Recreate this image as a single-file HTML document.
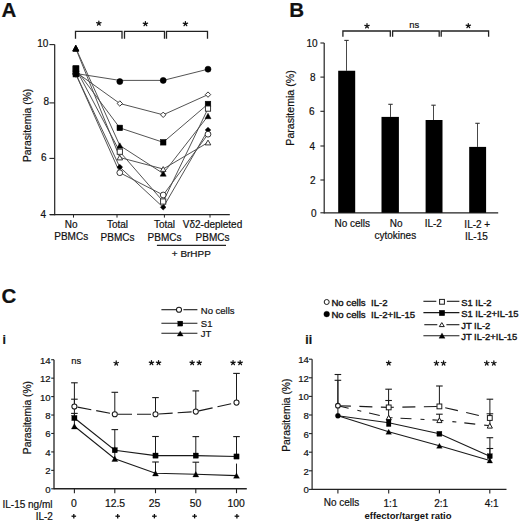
<!DOCTYPE html><html><head><meta charset="utf-8"><style>html,body{margin:0;padding:0;background:#fff;overflow:hidden;}svg{display:block;}text{font-family:"Liberation Sans", sans-serif;fill:#111;stroke:#111;stroke-width:0.2px;}</style></head><body>
<svg width="520" height="521" viewBox="0 0 520 521">
<rect width="520" height="521" fill="#fff"/>
<text x="1.5" y="17" font-size="20.5" text-anchor="start" font-weight="bold" >A</text>
<line x1="54.7" y1="44.6" x2="54.7" y2="215.2" stroke="#222" stroke-width="1.2" />
<line x1="50" y1="214.6" x2="229.8" y2="214.6" stroke="#222" stroke-width="1.3" />
<line x1="49.4" y1="44.6" x2="54.7" y2="44.6" stroke="#222" stroke-width="1.1" />
<line x1="49.4" y1="102.9" x2="54.7" y2="102.9" stroke="#222" stroke-width="1.1" />
<line x1="49.4" y1="158.4" x2="54.7" y2="158.4" stroke="#222" stroke-width="1.1" />
<line x1="49.4" y1="214.6" x2="54.7" y2="214.6" stroke="#222" stroke-width="1.1" />
<text x="48.3" y="46.8" font-size="10" text-anchor="end" font-weight="normal" >10</text>
<text x="49.1" y="104.9" font-size="10" text-anchor="end" font-weight="normal" >8</text>
<text x="46.6" y="160.9" font-size="10" text-anchor="end" font-weight="normal" >6</text>
<text x="46.0" y="217.8" font-size="10" text-anchor="end" font-weight="normal" >4</text>
<line x1="73.5" y1="214.6" x2="73.5" y2="217.6" stroke="#222" stroke-width="1.0" />
<line x1="117" y1="214.6" x2="117" y2="217.6" stroke="#222" stroke-width="1.0" />
<line x1="164.4" y1="214.6" x2="164.4" y2="217.6" stroke="#222" stroke-width="1.0" />
<line x1="210" y1="214.6" x2="210" y2="217.6" stroke="#222" stroke-width="1.0" />
<text x="31.0" y="125.4" font-size="10.3" text-anchor="middle" transform="rotate(-90 31.0 125.4)">Parasitemia (%)</text>
<text x="71.2" y="227.8" font-size="10" text-anchor="middle" font-weight="normal" >No</text>
<text x="71.2" y="240.2" font-size="10" text-anchor="middle" font-weight="normal" >PBMCs</text>
<text x="117.5" y="228.4" font-size="10" text-anchor="middle" font-weight="normal" >Total</text>
<text x="117.5" y="240.9" font-size="10" text-anchor="middle" font-weight="normal" >PBMCs</text>
<text x="164.5" y="228.4" font-size="10" text-anchor="middle" font-weight="normal" >Total</text>
<text x="164.5" y="240.9" font-size="10" text-anchor="middle" font-weight="normal" >PBMCs</text>
<text x="212.5" y="228.2" font-size="10" text-anchor="middle" font-weight="normal" >V&#948;2-depleted</text>
<text x="212.5" y="240.5" font-size="10" text-anchor="middle" font-weight="normal" >PBMCs</text>
<line x1="156.9" y1="245.4" x2="226" y2="245.4" stroke="#222" stroke-width="1.2" />
<text transform="translate(191.3 256.6) scale(1.06 1)" font-size="9.4" text-anchor="middle" font-weight="normal" >+ BrHPP</text>
<polyline points="75.5,38.8 75.5,31.3 122,31.3 122,38.8" fill="none" stroke="#222" stroke-width="1.3"/>
<polyline points="124.5,38.8 124.5,31.3 164.5,31.3 164.5,38.8" fill="none" stroke="#222" stroke-width="1.3"/>
<polyline points="166.5,38.8 166.5,31.3 207.5,31.3 207.5,38.8" fill="none" stroke="#222" stroke-width="1.3"/>
<path d="M98.85,23.32L98.85,21.02M98.85,23.32L101.04,22.61M98.85,23.32L100.20,25.18M98.85,23.32L97.50,25.18M98.85,23.32L96.66,22.61" stroke="#111" stroke-width="1.25" stroke-linecap="round" fill="none"/>
<path d="M145.40,23.82L145.40,21.52M145.40,23.82L147.59,23.11M145.40,23.82L146.75,25.68M145.40,23.82L144.05,25.68M145.40,23.82L143.21,23.11" stroke="#111" stroke-width="1.25" stroke-linecap="round" fill="none"/>
<path d="M185.40,23.82L185.40,21.52M185.40,23.82L187.59,23.11M185.40,23.82L186.75,25.68M185.40,23.82L184.05,25.68M185.40,23.82L183.21,23.11" stroke="#111" stroke-width="1.25" stroke-linecap="round" fill="none"/>
<polyline points="75.80,73.50 119.80,80.40 163.20,80.40 208.00,69.20" fill="none" stroke="#4a4a4a" stroke-width="0.95" />
<polyline points="75.80,72.00 119.80,103.50 163.20,114.80 208.00,94.60" fill="none" stroke="#4a4a4a" stroke-width="0.95" />
<polyline points="75.80,69.00 119.80,127.90 163.20,142.30 208.00,104.00" fill="none" stroke="#4a4a4a" stroke-width="0.95" />
<polyline points="75.80,68.50 119.80,151.70 163.20,201.50 208.00,108.60" fill="none" stroke="#4a4a4a" stroke-width="0.95" />
<polyline points="75.80,48.00 119.80,145.50 163.20,173.50 208.00,116.00" fill="none" stroke="#4a4a4a" stroke-width="0.95" />
<polyline points="75.80,48.50 119.80,157.50 163.20,169.00 208.00,142.50" fill="none" stroke="#4a4a4a" stroke-width="0.95" />
<polyline points="75.80,74.00 119.80,167.10 163.20,207.30 208.00,130.00" fill="none" stroke="#4a4a4a" stroke-width="0.95" />
<polyline points="75.80,74.00 119.80,172.70 163.20,195.00 208.00,134.20" fill="none" stroke="#4a4a4a" stroke-width="0.95" />
<circle cx="119.8" cy="81.6" r="3.0" fill="#000" stroke="#000" stroke-width="0.6"/>
<polygon points="119.80,100.80 122.50,103.50 119.80,106.20 117.10,103.50" fill="#fff" stroke="#222" stroke-width="0.9"/>
<rect x="117.00" y="125.10" width="5.6" height="5.6" fill="#000" stroke="#000" stroke-width="0.5"/>
<rect x="117.20" y="149.10" width="5.2" height="5.2" fill="#fff" stroke="#222" stroke-width="0.9"/>
<polygon points="119.80,142.80 122.80,148.20 116.80,148.20" fill="#000" stroke="#000" stroke-width="0.5" stroke-linejoin="miter"/>
<polygon points="119.80,155.10 122.60,159.90 117.00,159.90" fill="#fff" stroke="#222" stroke-width="0.9" stroke-linejoin="miter"/>
<polygon points="119.80,164.30 122.60,167.10 119.80,169.90 117.00,167.10" fill="#000" stroke="#000" stroke-width="0.5"/>
<circle cx="119.8" cy="172.7" r="2.9" fill="#fff" stroke="#222" stroke-width="0.9"/>
<circle cx="163.2" cy="80.4" r="3.0" fill="#000" stroke="#000" stroke-width="0.6"/>
<polygon points="163.20,112.10 165.90,114.80 163.20,117.50 160.50,114.80" fill="#fff" stroke="#222" stroke-width="0.9"/>
<rect x="160.40" y="139.50" width="5.6" height="5.6" fill="#000" stroke="#000" stroke-width="0.5"/>
<rect x="160.60" y="198.90" width="5.2" height="5.2" fill="#fff" stroke="#222" stroke-width="0.9"/>
<polygon points="163.20,170.80 166.20,176.20 160.20,176.20" fill="#000" stroke="#000" stroke-width="0.5" stroke-linejoin="miter"/>
<polygon points="163.20,166.60 166.00,171.40 160.40,171.40" fill="#fff" stroke="#222" stroke-width="0.9" stroke-linejoin="miter"/>
<polygon points="163.20,204.50 166.00,207.30 163.20,210.10 160.40,207.30" fill="#000" stroke="#000" stroke-width="0.5"/>
<circle cx="163.2" cy="195" r="2.9" fill="#fff" stroke="#222" stroke-width="0.9"/>
<circle cx="208.0" cy="69.2" r="3.0" fill="#000" stroke="#000" stroke-width="0.6"/>
<polygon points="208.00,91.90 210.70,94.60 208.00,97.30 205.30,94.60" fill="#fff" stroke="#222" stroke-width="0.9"/>
<rect x="205.20" y="101.20" width="5.6" height="5.6" fill="#000" stroke="#000" stroke-width="0.5"/>
<rect x="205.40" y="106.00" width="5.2" height="5.2" fill="#fff" stroke="#222" stroke-width="0.9"/>
<polygon points="208.00,113.30 211.00,118.70 205.00,118.70" fill="#000" stroke="#000" stroke-width="0.5" stroke-linejoin="miter"/>
<polygon points="208.00,140.10 210.80,144.90 205.20,144.90" fill="#fff" stroke="#222" stroke-width="0.9" stroke-linejoin="miter"/>
<polygon points="208.00,127.20 210.80,130.00 208.00,132.80 205.20,130.00" fill="#000" stroke="#000" stroke-width="0.5"/>
<circle cx="208.0" cy="134.2" r="2.9" fill="#fff" stroke="#222" stroke-width="0.9"/>
<circle cx="75.8" cy="73.5" r="3.0" fill="#000" stroke="#000" stroke-width="0.6"/>
<polygon points="75.80,69.30 78.50,72.00 75.80,74.70 73.10,72.00" fill="#fff" stroke="#222" stroke-width="0.9"/>
<rect x="73.00" y="66.20" width="5.6" height="5.6" fill="#000" stroke="#000" stroke-width="0.5"/>
<rect x="73.20" y="65.90" width="5.2" height="5.2" fill="#fff" stroke="#222" stroke-width="0.9"/>
<polygon points="75.80,45.30 78.80,50.70 72.80,50.70" fill="#000" stroke="#000" stroke-width="0.5" stroke-linejoin="miter"/>
<polygon points="75.80,46.10 78.60,50.90 73.00,50.90" fill="#fff" stroke="#222" stroke-width="0.9" stroke-linejoin="miter"/>
<polygon points="75.80,71.20 78.60,74.00 75.80,76.80 73.00,74.00" fill="#000" stroke="#000" stroke-width="0.5"/>
<circle cx="75.8" cy="74" r="2.9" fill="#fff" stroke="#222" stroke-width="0.9"/>
<rect x="73.20" y="65.90" width="5.6" height="5.6" fill="#000" stroke="#000" stroke-width="0.9"/>
<rect x="73.20" y="71.20" width="5.6" height="5.6" fill="#000" stroke="#000" stroke-width="0.9"/>
<polygon points="75.80,45.20 78.80,51.20 72.80,51.20" fill="#000" stroke="#000" stroke-width="0.9" stroke-linejoin="miter"/>
<text x="289.3" y="16.9" font-size="20.5" text-anchor="start" font-weight="bold" >B</text>
<line x1="324.2" y1="43.0" x2="324.2" y2="213.4" stroke="#222" stroke-width="1.2" />
<line x1="324.2" y1="212.8" x2="498.2" y2="212.8" stroke="#222" stroke-width="1.3" />
<line x1="320.4" y1="43.0" x2="324.2" y2="43.0" stroke="#222" stroke-width="1.1" />
<text x="317.6" y="46.6" font-size="10" text-anchor="end" font-weight="normal" >10</text>
<line x1="320.4" y1="77.1" x2="324.2" y2="77.1" stroke="#222" stroke-width="1.1" />
<text x="315.6" y="80.69999999999999" font-size="10" text-anchor="end" font-weight="normal" >8</text>
<line x1="320.4" y1="111.3" x2="324.2" y2="111.3" stroke="#222" stroke-width="1.1" />
<text x="314.5" y="114.89999999999999" font-size="10" text-anchor="end" font-weight="normal" >6</text>
<line x1="320.4" y1="146.0" x2="324.2" y2="146.0" stroke="#222" stroke-width="1.1" />
<text x="315.1" y="149.6" font-size="10" text-anchor="end" font-weight="normal" >4</text>
<line x1="320.4" y1="180.0" x2="324.2" y2="180.0" stroke="#222" stroke-width="1.1" />
<text x="315.5" y="183.6" font-size="10" text-anchor="end" font-weight="normal" >2</text>
<line x1="320.4" y1="212.8" x2="324.2" y2="212.8" stroke="#222" stroke-width="1.1" />
<text x="316.6" y="217.20000000000002" font-size="10" text-anchor="end" font-weight="normal" >0</text>
<text x="293.9" y="108.0" font-size="10.6" text-anchor="middle" transform="rotate(-90 293.9 108.0)">Parasitemia (%)</text>
<line x1="346.5" y1="70.75" x2="346.5" y2="40.4" stroke="#333" stroke-width="0.9" />
<line x1="344.3" y1="40.4" x2="348.7" y2="40.4" stroke="#333" stroke-width="1.1" />
<rect x="338.2" y="70.75" width="17.00" height="142.05" fill="#000"/>
<line x1="390.5" y1="116.9" x2="390.5" y2="104.3" stroke="#333" stroke-width="0.9" />
<line x1="388.3" y1="104.3" x2="392.7" y2="104.3" stroke="#333" stroke-width="1.1" />
<rect x="381.5" y="116.9" width="17.40" height="95.90" fill="#000"/>
<line x1="433.5" y1="120.0" x2="433.5" y2="105.2" stroke="#333" stroke-width="0.9" />
<line x1="431.3" y1="105.2" x2="435.7" y2="105.2" stroke="#333" stroke-width="1.1" />
<rect x="425.6" y="120.0" width="16.90" height="92.80" fill="#000"/>
<line x1="477.5" y1="146.9" x2="477.5" y2="123.3" stroke="#333" stroke-width="0.9" />
<line x1="475.3" y1="123.3" x2="479.7" y2="123.3" stroke="#333" stroke-width="1.1" />
<rect x="469.2" y="146.9" width="16.90" height="65.90" fill="#000"/>
<polyline points="342.9,36.8 342.9,31.0 390.3,31.0 390.3,36.8" fill="none" stroke="#222" stroke-width="1.3"/>
<polyline points="392.6,36.8 392.6,31.0 439.2,31.0 439.2,36.8" fill="none" stroke="#222" stroke-width="1.3"/>
<polyline points="441.2,36.8 441.2,31.0 488.6,31.0 488.6,36.8" fill="none" stroke="#222" stroke-width="1.3"/>
<path d="M367.00,26.02L367.00,23.72M367.00,26.02L369.19,25.31M367.00,26.02L368.35,27.88M367.00,26.02L365.65,27.88M367.00,26.02L364.81,25.31" stroke="#111" stroke-width="1.25" stroke-linecap="round" fill="none"/>
<path d="M468.30,25.82L468.30,23.52M468.30,25.82L470.49,25.11M468.30,25.82L469.65,27.68M468.30,25.82L466.95,27.68M468.30,25.82L466.11,25.11" stroke="#111" stroke-width="1.25" stroke-linecap="round" fill="none"/>
<text x="414.3" y="27.7" font-size="9.4" text-anchor="middle" font-weight="normal" >ns</text>
<text x="352.2" y="227.1" font-size="10" text-anchor="middle" font-weight="normal" >No cells</text>
<text x="396.2" y="226.9" font-size="10" text-anchor="middle" font-weight="normal" >No</text>
<text x="395.3" y="239.0" font-size="10" text-anchor="middle" font-weight="normal" >cytokines</text>
<text x="433.3" y="227.0" font-size="10" text-anchor="middle" font-weight="normal" >IL-2</text>
<text x="477.3" y="227.7" font-size="10" text-anchor="middle" font-weight="normal" >IL-2 +</text>
<text x="476.4" y="239.7" font-size="10" text-anchor="middle" font-weight="normal" >IL-15</text>
<text x="1.6" y="303.1" font-size="20.5" text-anchor="start" font-weight="bold" >C</text>
<text x="2.6" y="343.6" font-size="12.3" text-anchor="start" font-weight="bold" >i</text>
<line x1="54.0" y1="359.7" x2="54.0" y2="489.3" stroke="#222" stroke-width="1.3" />
<line x1="54.0" y1="488.8" x2="246.8" y2="488.8" stroke="#222" stroke-width="1.4" />
<line x1="51.2" y1="488.8" x2="54.0" y2="488.8" stroke="#222" stroke-width="1.1" />
<text x="50.6" y="492.8" font-size="9.6" text-anchor="end" font-weight="normal" >0</text>
<line x1="51.2" y1="470.36" x2="54.0" y2="470.36" stroke="#222" stroke-width="1.1" />
<text x="50.6" y="474.36" font-size="9.6" text-anchor="end" font-weight="normal" >2</text>
<line x1="51.2" y1="451.92" x2="54.0" y2="451.92" stroke="#222" stroke-width="1.1" />
<text x="50.6" y="455.92" font-size="9.6" text-anchor="end" font-weight="normal" >4</text>
<line x1="51.2" y1="433.48" x2="54.0" y2="433.48" stroke="#222" stroke-width="1.1" />
<text x="50.6" y="437.48" font-size="9.6" text-anchor="end" font-weight="normal" >6</text>
<line x1="51.2" y1="415.04" x2="54.0" y2="415.04" stroke="#222" stroke-width="1.1" />
<text x="50.6" y="419.04" font-size="9.6" text-anchor="end" font-weight="normal" >8</text>
<line x1="51.2" y1="396.6" x2="54.0" y2="396.6" stroke="#222" stroke-width="1.1" />
<text x="50.6" y="400.6" font-size="9.6" text-anchor="end" font-weight="normal" >10</text>
<line x1="51.2" y1="378.15999999999997" x2="54.0" y2="378.15999999999997" stroke="#222" stroke-width="1.1" />
<text x="50.6" y="382.15999999999997" font-size="9.6" text-anchor="end" font-weight="normal" >12</text>
<line x1="51.2" y1="359.72" x2="54.0" y2="359.72" stroke="#222" stroke-width="1.1" />
<text x="50.6" y="363.72" font-size="9.6" text-anchor="end" font-weight="normal" >14</text>
<line x1="74.4" y1="488.8" x2="74.4" y2="493.2" stroke="#222" stroke-width="1.1" />
<line x1="114.8" y1="488.8" x2="114.8" y2="493.2" stroke="#222" stroke-width="1.1" />
<line x1="155.5" y1="488.8" x2="155.5" y2="493.2" stroke="#222" stroke-width="1.1" />
<line x1="195.8" y1="488.8" x2="195.8" y2="493.2" stroke="#222" stroke-width="1.1" />
<line x1="236.5" y1="488.8" x2="236.5" y2="493.2" stroke="#222" stroke-width="1.1" />
<text x="73.8" y="507.3" font-size="10.4" text-anchor="middle" font-weight="normal" >0</text>
<text x="115.0" y="507.3" font-size="10.4" text-anchor="middle" font-weight="normal" >12.5</text>
<text x="154.6" y="507.3" font-size="10.4" text-anchor="middle" font-weight="normal" >25</text>
<text x="195.6" y="507.3" font-size="10.4" text-anchor="middle" font-weight="normal" >50</text>
<text x="236.1" y="507.3" font-size="10.4" text-anchor="middle" font-weight="normal" >100</text>
<line x1="71.5" y1="516.2" x2="76.1" y2="516.2" stroke="#111" stroke-width="1.3" />
<line x1="73.8" y1="514.0" x2="73.8" y2="518.4" stroke="#111" stroke-width="1.3" />
<line x1="115.4" y1="516.2" x2="120.0" y2="516.2" stroke="#111" stroke-width="1.3" />
<line x1="117.7" y1="514.0" x2="117.7" y2="518.4" stroke="#111" stroke-width="1.3" />
<line x1="152.1" y1="516.2" x2="156.70000000000002" y2="516.2" stroke="#111" stroke-width="1.3" />
<line x1="154.4" y1="514.0" x2="154.4" y2="518.4" stroke="#111" stroke-width="1.3" />
<line x1="192.29999999999998" y1="516.2" x2="196.9" y2="516.2" stroke="#111" stroke-width="1.3" />
<line x1="194.6" y1="514.0" x2="194.6" y2="518.4" stroke="#111" stroke-width="1.3" />
<line x1="234.6" y1="516.2" x2="239.20000000000002" y2="516.2" stroke="#111" stroke-width="1.3" />
<line x1="236.9" y1="514.0" x2="236.9" y2="518.4" stroke="#111" stroke-width="1.3" />
<text x="52.5" y="507.7" font-size="10" text-anchor="end" font-weight="normal" >IL-15 ng/ml</text>
<text x="52.9" y="519.7" font-size="10" text-anchor="end" font-weight="normal" >IL-2</text>
<text x="31.3" y="417.6" font-size="10.3" text-anchor="middle" transform="rotate(-90 31.3 417.6)">Parasitemia (%)</text>
<line x1="74.4" y1="406.5" x2="74.4" y2="382.8" stroke="#1a1a1a" stroke-width="1.0" />
<line x1="71.10000000000001" y1="382.8" x2="77.7" y2="382.8" stroke="#1a1a1a" stroke-width="1.1" />
<line x1="74.4" y1="418.0" x2="74.4" y2="399.2" stroke="#1a1a1a" stroke-width="1.0" />
<line x1="71.10000000000001" y1="399.2" x2="77.7" y2="399.2" stroke="#1a1a1a" stroke-width="1.1" />
<line x1="74.4" y1="426.3" x2="74.4" y2="413.4" stroke="#1a1a1a" stroke-width="1.0" />
<line x1="71.10000000000001" y1="413.4" x2="77.7" y2="413.4" stroke="#1a1a1a" stroke-width="1.1" />
<line x1="114.8" y1="414.2" x2="114.8" y2="392.3" stroke="#1a1a1a" stroke-width="1.0" />
<line x1="111.5" y1="392.3" x2="118.1" y2="392.3" stroke="#1a1a1a" stroke-width="1.1" />
<line x1="114.8" y1="450.2" x2="114.8" y2="429.6" stroke="#1a1a1a" stroke-width="1.0" />
<line x1="111.5" y1="429.6" x2="118.1" y2="429.6" stroke="#1a1a1a" stroke-width="1.1" />
<line x1="114.8" y1="458.8" x2="114.8" y2="446.8" stroke="#1a1a1a" stroke-width="1.0" />
<line x1="155.5" y1="414.2" x2="155.5" y2="397.6" stroke="#1a1a1a" stroke-width="1.0" />
<line x1="152.2" y1="397.6" x2="158.8" y2="397.6" stroke="#1a1a1a" stroke-width="1.1" />
<line x1="155.5" y1="455.6" x2="155.5" y2="436.5" stroke="#1a1a1a" stroke-width="1.0" />
<line x1="152.2" y1="436.5" x2="158.8" y2="436.5" stroke="#1a1a1a" stroke-width="1.1" />
<line x1="155.5" y1="473.3" x2="155.5" y2="462.0" stroke="#1a1a1a" stroke-width="1.0" />
<line x1="152.2" y1="462.0" x2="158.8" y2="462.0" stroke="#1a1a1a" stroke-width="1.1" />
<line x1="195.8" y1="411.6" x2="195.8" y2="390.9" stroke="#1a1a1a" stroke-width="1.0" />
<line x1="192.5" y1="390.9" x2="199.10000000000002" y2="390.9" stroke="#1a1a1a" stroke-width="1.1" />
<line x1="195.8" y1="455.6" x2="195.8" y2="436.6" stroke="#1a1a1a" stroke-width="1.0" />
<line x1="192.5" y1="436.6" x2="199.10000000000002" y2="436.6" stroke="#1a1a1a" stroke-width="1.1" />
<line x1="195.8" y1="474.2" x2="195.8" y2="462.2" stroke="#1a1a1a" stroke-width="1.0" />
<line x1="192.5" y1="462.2" x2="199.10000000000002" y2="462.2" stroke="#1a1a1a" stroke-width="1.1" />
<line x1="236.5" y1="402.6" x2="236.5" y2="373.4" stroke="#1a1a1a" stroke-width="1.0" />
<line x1="233.2" y1="373.4" x2="239.8" y2="373.4" stroke="#1a1a1a" stroke-width="1.1" />
<line x1="236.5" y1="456.5" x2="236.5" y2="436.6" stroke="#1a1a1a" stroke-width="1.0" />
<line x1="233.2" y1="436.6" x2="239.8" y2="436.6" stroke="#1a1a1a" stroke-width="1.1" />
<line x1="236.5" y1="475.6" x2="236.5" y2="463.6" stroke="#1a1a1a" stroke-width="1.0" />
<line x1="77.54" y1="407.10" x2="111.66" y2="413.60" stroke="#1a1a1a" stroke-width="1.1" stroke-dasharray="14 5"/>
<line x1="118.00" y1="414.20" x2="152.30" y2="414.20" stroke="#1a1a1a" stroke-width="1.1" stroke-dasharray="14 5"/>
<line x1="158.69" y1="413.99" x2="192.61" y2="411.81" stroke="#1a1a1a" stroke-width="1.1" stroke-dasharray="14 5"/>
<line x1="198.92" y1="410.91" x2="233.38" y2="403.29" stroke="#1a1a1a" stroke-width="1.1" stroke-dasharray="14 5"/>
<polyline points="74.40,418.00 114.80,450.20 155.50,455.60 195.80,455.60 236.50,456.50" fill="none" stroke="#1a1a1a" stroke-width="1.1" />
<polyline points="74.40,426.30 114.80,458.80 155.50,473.30 195.80,474.20 236.50,475.60" fill="none" stroke="#1a1a1a" stroke-width="1.1" />
<circle cx="74.4" cy="406.5" r="2.55" fill="#fff" stroke="#1a1a1a" stroke-width="1.05"/>
<rect x="71.80" y="415.40" width="5.2" height="5.2" fill="#000" stroke="#000" stroke-width="0.3"/>
<polygon points="74.40,423.60 77.40,429.00 71.40,429.00" fill="#000" stroke="#000" stroke-width="0.3" stroke-linejoin="miter"/>
<circle cx="114.8" cy="414.2" r="2.55" fill="#fff" stroke="#1a1a1a" stroke-width="1.05"/>
<rect x="112.20" y="447.60" width="5.2" height="5.2" fill="#000" stroke="#000" stroke-width="0.3"/>
<polygon points="114.80,456.10 117.80,461.50 111.80,461.50" fill="#000" stroke="#000" stroke-width="0.3" stroke-linejoin="miter"/>
<circle cx="155.5" cy="414.2" r="2.55" fill="#fff" stroke="#1a1a1a" stroke-width="1.05"/>
<rect x="152.90" y="453.00" width="5.2" height="5.2" fill="#000" stroke="#000" stroke-width="0.3"/>
<polygon points="155.50,470.60 158.50,476.00 152.50,476.00" fill="#000" stroke="#000" stroke-width="0.3" stroke-linejoin="miter"/>
<circle cx="195.8" cy="411.6" r="2.55" fill="#fff" stroke="#1a1a1a" stroke-width="1.05"/>
<rect x="193.20" y="453.00" width="5.2" height="5.2" fill="#000" stroke="#000" stroke-width="0.3"/>
<polygon points="195.80,471.50 198.80,476.90 192.80,476.90" fill="#000" stroke="#000" stroke-width="0.3" stroke-linejoin="miter"/>
<circle cx="236.5" cy="402.6" r="2.55" fill="#fff" stroke="#1a1a1a" stroke-width="1.05"/>
<rect x="233.90" y="453.90" width="5.2" height="5.2" fill="#000" stroke="#000" stroke-width="0.3"/>
<polygon points="236.50,472.90 239.50,478.30 233.50,478.30" fill="#000" stroke="#000" stroke-width="0.3" stroke-linejoin="miter"/>
<text x="76.2" y="364.2" font-size="9.4" text-anchor="middle" font-weight="normal" >ns</text>
<path d="M116.20,363.22L116.20,360.92M116.20,363.22L118.39,362.51M116.20,363.22L117.55,365.08M116.20,363.22L114.85,365.08M116.20,363.22L114.01,362.51" stroke="#111" stroke-width="1.25" stroke-linecap="round" fill="none"/>
<path d="M151.45,362.82L151.45,360.52M151.45,362.82L153.64,362.11M151.45,362.82L152.80,364.68M151.45,362.82L150.10,364.68M151.45,362.82L149.26,362.11" stroke="#111" stroke-width="1.25" stroke-linecap="round" fill="none"/>
<path d="M158.55,362.82L158.55,360.52M158.55,362.82L160.74,362.11M158.55,362.82L159.90,364.68M158.55,362.82L157.20,364.68M158.55,362.82L156.36,362.11" stroke="#111" stroke-width="1.25" stroke-linecap="round" fill="none"/>
<path d="M192.15,362.82L192.15,360.52M192.15,362.82L194.34,362.11M192.15,362.82L193.50,364.68M192.15,362.82L190.80,364.68M192.15,362.82L189.96,362.11" stroke="#111" stroke-width="1.25" stroke-linecap="round" fill="none"/>
<path d="M199.25,362.82L199.25,360.52M199.25,362.82L201.44,362.11M199.25,362.82L200.60,364.68M199.25,362.82L197.90,364.68M199.25,362.82L197.06,362.11" stroke="#111" stroke-width="1.25" stroke-linecap="round" fill="none"/>
<path d="M233.05,362.82L233.05,360.52M233.05,362.82L235.24,362.11M233.05,362.82L234.40,364.68M233.05,362.82L231.70,364.68M233.05,362.82L230.86,362.11" stroke="#111" stroke-width="1.25" stroke-linecap="round" fill="none"/>
<path d="M240.15,362.82L240.15,360.52M240.15,362.82L242.34,362.11M240.15,362.82L241.50,364.68M240.15,362.82L238.80,364.68M240.15,362.82L237.96,362.11" stroke="#111" stroke-width="1.25" stroke-linecap="round" fill="none"/>
<line x1="161.4" y1="309.7" x2="176.0" y2="309.7" stroke="#1a1a1a" stroke-width="1.1" />
<line x1="183.4" y1="309.7" x2="197.4" y2="309.7" stroke="#1a1a1a" stroke-width="1.1" />
<circle cx="179.0" cy="309.7" r="2.55" fill="#fff" stroke="#1a1a1a" stroke-width="1.05"/>
<line x1="161.4" y1="323.3" x2="197.4" y2="323.3" stroke="#1a1a1a" stroke-width="1.1" />
<rect x="177.80" y="321.10" width="5.0" height="5.0" fill="#000" stroke="#000" stroke-width="0.3"/>
<line x1="161.4" y1="333.3" x2="197.4" y2="333.3" stroke="#1a1a1a" stroke-width="1.1" />
<polygon points="180.20,330.90 183.20,336.10 177.20,336.10" fill="#000" stroke="#000" stroke-width="0.3" stroke-linejoin="miter"/>
<text x="200.8" y="313.8" font-size="9.5" text-anchor="start" font-weight="normal" >No cells</text>
<text x="200.8" y="326.9" font-size="9.5" text-anchor="start" font-weight="normal" >S1</text>
<text x="200.8" y="337.2" font-size="9.5" text-anchor="start" font-weight="normal" >JT</text>
<line x1="312.1" y1="359.2" x2="312.1" y2="489.9" stroke="#222" stroke-width="1.2" />
<line x1="312.1" y1="489.4" x2="506.5" y2="489.4" stroke="#222" stroke-width="1.3" />
<line x1="308.9" y1="489.4" x2="312.1" y2="489.4" stroke="#222" stroke-width="1.1" />
<text x="308.9" y="493.29999999999995" font-size="9.6" text-anchor="end" font-weight="normal" >0</text>
<line x1="308.9" y1="470.79999999999995" x2="312.1" y2="470.79999999999995" stroke="#222" stroke-width="1.1" />
<text x="308.9" y="474.69999999999993" font-size="9.6" text-anchor="end" font-weight="normal" >2</text>
<line x1="308.9" y1="452.2" x2="312.1" y2="452.2" stroke="#222" stroke-width="1.1" />
<text x="308.9" y="456.09999999999997" font-size="9.6" text-anchor="end" font-weight="normal" >4</text>
<line x1="308.9" y1="433.59999999999997" x2="312.1" y2="433.59999999999997" stroke="#222" stroke-width="1.1" />
<text x="308.9" y="437.49999999999994" font-size="9.6" text-anchor="end" font-weight="normal" >6</text>
<line x1="308.9" y1="415.0" x2="312.1" y2="415.0" stroke="#222" stroke-width="1.1" />
<text x="308.9" y="418.9" font-size="9.6" text-anchor="end" font-weight="normal" >8</text>
<line x1="308.9" y1="396.4" x2="312.1" y2="396.4" stroke="#222" stroke-width="1.1" />
<text x="308.9" y="400.29999999999995" font-size="9.6" text-anchor="end" font-weight="normal" >10</text>
<line x1="308.9" y1="377.79999999999995" x2="312.1" y2="377.79999999999995" stroke="#222" stroke-width="1.1" />
<text x="308.9" y="381.69999999999993" font-size="9.6" text-anchor="end" font-weight="normal" >12</text>
<line x1="308.9" y1="359.19999999999993" x2="312.1" y2="359.19999999999993" stroke="#222" stroke-width="1.1" />
<text x="308.9" y="363.0999999999999" font-size="9.6" text-anchor="end" font-weight="normal" >14</text>
<line x1="337.9" y1="489.4" x2="337.9" y2="493.4" stroke="#222" stroke-width="1.1" />
<line x1="388.7" y1="489.4" x2="388.7" y2="493.4" stroke="#222" stroke-width="1.1" />
<line x1="439.4" y1="489.4" x2="439.4" y2="493.4" stroke="#222" stroke-width="1.1" />
<line x1="489.8" y1="489.4" x2="489.8" y2="493.4" stroke="#222" stroke-width="1.1" />
<text x="341.5" y="505.7" font-size="10" text-anchor="middle" font-weight="normal" >No cells</text>
<text x="390.5" y="506.5" font-size="10" text-anchor="middle" font-weight="normal" >1:1</text>
<text x="441.2" y="506.5" font-size="10" text-anchor="middle" font-weight="normal" >2:1</text>
<text x="491.6" y="506.5" font-size="10" text-anchor="middle" font-weight="normal" >4:1</text>
<text x="408.0" y="518.6" font-size="9.5" text-anchor="middle" font-weight="bold" style="stroke-width:0">effector/target ratio</text>
<text x="305.3" y="343.6" font-size="12.3" text-anchor="start" font-weight="bold" >ii</text>
<text x="290.3" y="415.2" font-size="10.3" text-anchor="middle" transform="rotate(-90 290.3 415.2)">Parasitemia (%)</text>
<line x1="337.9" y1="405.7" x2="337.9" y2="374.5" stroke="#1a1a1a" stroke-width="1.0" />
<line x1="334.59999999999997" y1="374.5" x2="341.2" y2="374.5" stroke="#1a1a1a" stroke-width="1.1" />
<line x1="337.9" y1="415.7" x2="337.9" y2="380.3" stroke="#1a1a1a" stroke-width="1.0" />
<line x1="334.59999999999997" y1="380.3" x2="341.2" y2="380.3" stroke="#1a1a1a" stroke-width="1.1" />
<line x1="388.6" y1="407.4" x2="388.6" y2="389.2" stroke="#1a1a1a" stroke-width="1.0" />
<line x1="385.3" y1="389.2" x2="391.90000000000003" y2="389.2" stroke="#1a1a1a" stroke-width="1.1" />
<line x1="388.6" y1="417.6" x2="388.6" y2="400.5" stroke="#1a1a1a" stroke-width="1.0" />
<line x1="385.3" y1="400.5" x2="391.90000000000003" y2="400.5" stroke="#1a1a1a" stroke-width="1.1" />
<line x1="439.4" y1="406.4" x2="439.4" y2="386.0" stroke="#1a1a1a" stroke-width="1.0" />
<line x1="436.09999999999997" y1="386.0" x2="442.7" y2="386.0" stroke="#1a1a1a" stroke-width="1.1" />
<line x1="439.4" y1="420.2" x2="439.4" y2="414.2" stroke="#1a1a1a" stroke-width="1.0" />
<line x1="436.09999999999997" y1="414.2" x2="442.7" y2="414.2" stroke="#1a1a1a" stroke-width="1.1" />
<line x1="489.9" y1="418.0" x2="489.9" y2="399.2" stroke="#1a1a1a" stroke-width="1.0" />
<line x1="486.59999999999997" y1="399.2" x2="493.2" y2="399.2" stroke="#1a1a1a" stroke-width="1.1" />
<line x1="489.9" y1="425.7" x2="489.9" y2="413.8" stroke="#1a1a1a" stroke-width="1.0" />
<line x1="486.59999999999997" y1="413.8" x2="493.2" y2="413.8" stroke="#1a1a1a" stroke-width="1.1" />
<line x1="489.9" y1="456.2" x2="489.9" y2="437.7" stroke="#1a1a1a" stroke-width="1.0" />
<line x1="486.59999999999997" y1="437.7" x2="493.2" y2="437.7" stroke="#1a1a1a" stroke-width="1.1" />
<line x1="489.9" y1="460.5" x2="489.9" y2="448.5" stroke="#1a1a1a" stroke-width="1.0" />
<line x1="486.59999999999997" y1="448.5" x2="493.2" y2="448.5" stroke="#1a1a1a" stroke-width="1.1" />
<polyline points="337.90,415.70 388.70,422.80 439.40,433.80 489.80,456.20" fill="none" stroke="#1a1a1a" stroke-width="1.1" />
<polyline points="337.90,415.70 388.70,431.80 439.40,445.80 489.80,460.50" fill="none" stroke="#1a1a1a" stroke-width="1.1" />
<polyline points="337.90,405.70 388.70,407.40 439.40,406.40 489.80,418.00" fill="none" stroke="#1a1a1a" stroke-width="1.1" stroke-dasharray="13 8.5"/>
<polyline points="337.90,405.70 388.70,417.60 439.40,420.20 489.80,425.70" fill="none" stroke="#1a1a1a" stroke-width="1.1" stroke-dasharray="11 9 4 8"/>
<circle cx="337.9" cy="405.7" r="2.35" fill="#fff" stroke="#1a1a1a" stroke-width="1.05"/>
<circle cx="337.9" cy="415.7" r="2.55" fill="#000" stroke="#000" stroke-width="0.3"/>
<rect x="386.30" y="405.00" width="4.8" height="4.8" fill="#fff" stroke="#1a1a1a" stroke-width="1.0"/>
<polygon points="388.70,415.20 391.30,420.00 386.10,420.00" fill="#fff" stroke="#1a1a1a" stroke-width="1.0" stroke-linejoin="miter"/>
<rect x="386.30" y="419.2" width="4.8" height="7.5" fill="#000"/>
<polygon points="388.70,429.30 391.50,434.30 385.90,434.30" fill="#000" stroke="#000" stroke-width="0.3" stroke-linejoin="miter"/>
<rect x="437.00" y="404.00" width="4.8" height="4.8" fill="#fff" stroke="#1a1a1a" stroke-width="1.0"/>
<polygon points="439.40,417.80 442.00,422.60 436.80,422.60" fill="#fff" stroke="#1a1a1a" stroke-width="1.0" stroke-linejoin="miter"/>
<rect x="436.90" y="431.30" width="5.0" height="5.0" fill="#000" stroke="#000" stroke-width="0.3"/>
<polygon points="439.40,443.30 442.20,448.30 436.60,448.30" fill="#000" stroke="#000" stroke-width="0.3" stroke-linejoin="miter"/>
<rect x="487.40" y="415.60" width="4.8" height="4.8" fill="#fff" stroke="#1a1a1a" stroke-width="1.0"/>
<polygon points="489.80,423.30 492.40,428.10 487.20,428.10" fill="#fff" stroke="#1a1a1a" stroke-width="1.0" stroke-linejoin="miter"/>
<rect x="487.30" y="453.70" width="5.0" height="5.0" fill="#000" stroke="#000" stroke-width="0.3"/>
<polygon points="489.80,458.00 492.60,463.00 487.00,463.00" fill="#000" stroke="#000" stroke-width="0.3" stroke-linejoin="miter"/>
<path d="M388.70,363.12L388.70,360.82M388.70,363.12L390.89,362.41M388.70,363.12L390.05,364.98M388.70,363.12L387.35,364.98M388.70,363.12L386.51,362.41" stroke="#111" stroke-width="1.25" stroke-linecap="round" fill="none"/>
<path d="M436.45,363.22L436.45,360.92M436.45,363.22L438.64,362.51M436.45,363.22L437.80,365.08M436.45,363.22L435.10,365.08M436.45,363.22L434.26,362.51" stroke="#111" stroke-width="1.25" stroke-linecap="round" fill="none"/>
<path d="M443.55,363.22L443.55,360.92M443.55,363.22L445.74,362.51M443.55,363.22L444.90,365.08M443.55,363.22L442.20,365.08M443.55,363.22L441.36,362.51" stroke="#111" stroke-width="1.25" stroke-linecap="round" fill="none"/>
<path d="M486.75,363.22L486.75,360.92M486.75,363.22L488.94,362.51M486.75,363.22L488.10,365.08M486.75,363.22L485.40,365.08M486.75,363.22L484.56,362.51" stroke="#111" stroke-width="1.25" stroke-linecap="round" fill="none"/>
<path d="M493.85,363.22L493.85,360.92M493.85,363.22L496.04,362.51M493.85,363.22L495.20,365.08M493.85,363.22L492.50,365.08M493.85,363.22L491.66,362.51" stroke="#111" stroke-width="1.25" stroke-linecap="round" fill="none"/>
<circle cx="326.7" cy="302.0" r="2.5" fill="#fff" stroke="#1a1a1a" stroke-width="1.0"/>
<text transform="translate(331.4 305.8) scale(1.07 1)" font-size="9.0" text-anchor="start" font-weight="normal" style="stroke-width:0.35px">No cells&#160;&#160;IL-2</text>
<circle cx="326.7" cy="314.1" r="2.9" fill="#000" stroke="#000" stroke-width="0.3"/>
<text transform="translate(331.4 317.8) scale(1.07 1)" font-size="9.0" text-anchor="start" font-weight="normal" style="stroke-width:0.35px">No cells&#160;&#160;IL-2+IL-15</text>
<line x1="423.4" y1="301.3" x2="436.3" y2="301.3" stroke="#1a1a1a" stroke-width="1.1" />
<line x1="446.9" y1="301.3" x2="459.4" y2="301.3" stroke="#1a1a1a" stroke-width="1.1" />
<rect x="439.60" y="299.40" width="4.8" height="4.8" fill="#fff" stroke="#1a1a1a" stroke-width="1.0"/>
<line x1="423.4" y1="312.6" x2="459.4" y2="312.6" stroke="#1a1a1a" stroke-width="1.1" />
<rect x="439.25" y="310.25" width="5.5" height="5.5" fill="#000" stroke="#000" stroke-width="0.3"/>
<line x1="424.3" y1="324.7" x2="437.3" y2="324.7" stroke="#1a1a1a" stroke-width="1.1" />
<line x1="446.4" y1="324.7" x2="459.4" y2="324.7" stroke="#1a1a1a" stroke-width="1.1" />
<polygon points="441.80,322.60 444.30,326.60 439.30,326.60" fill="#fff" stroke="#1a1a1a" stroke-width="1.0" stroke-linejoin="miter"/>
<line x1="423.4" y1="335.8" x2="459.4" y2="335.8" stroke="#1a1a1a" stroke-width="1.1" />
<polygon points="442.00,332.90 445.00,338.30 439.00,338.30" fill="#000" stroke="#000" stroke-width="0.3" stroke-linejoin="miter"/>
<text transform="translate(461.2 305.8) scale(1.07 1)" font-size="8.8" text-anchor="start" font-weight="normal" style="stroke-width:0.35px">S1 IL-2</text>
<text transform="translate(461.2 317.2) scale(1.07 1)" font-size="8.8" text-anchor="start" font-weight="normal" style="stroke-width:0.35px">S1 IL-2+IL-15</text>
<text transform="translate(461.2 328.8) scale(1.07 1)" font-size="8.8" text-anchor="start" font-weight="normal" style="stroke-width:0.35px">JT IL-2</text>
<text transform="translate(461.2 340.0) scale(1.07 1)" font-size="8.8" text-anchor="start" font-weight="normal" style="stroke-width:0.35px">JT IL-2+IL-15</text>
</svg></body></html>
